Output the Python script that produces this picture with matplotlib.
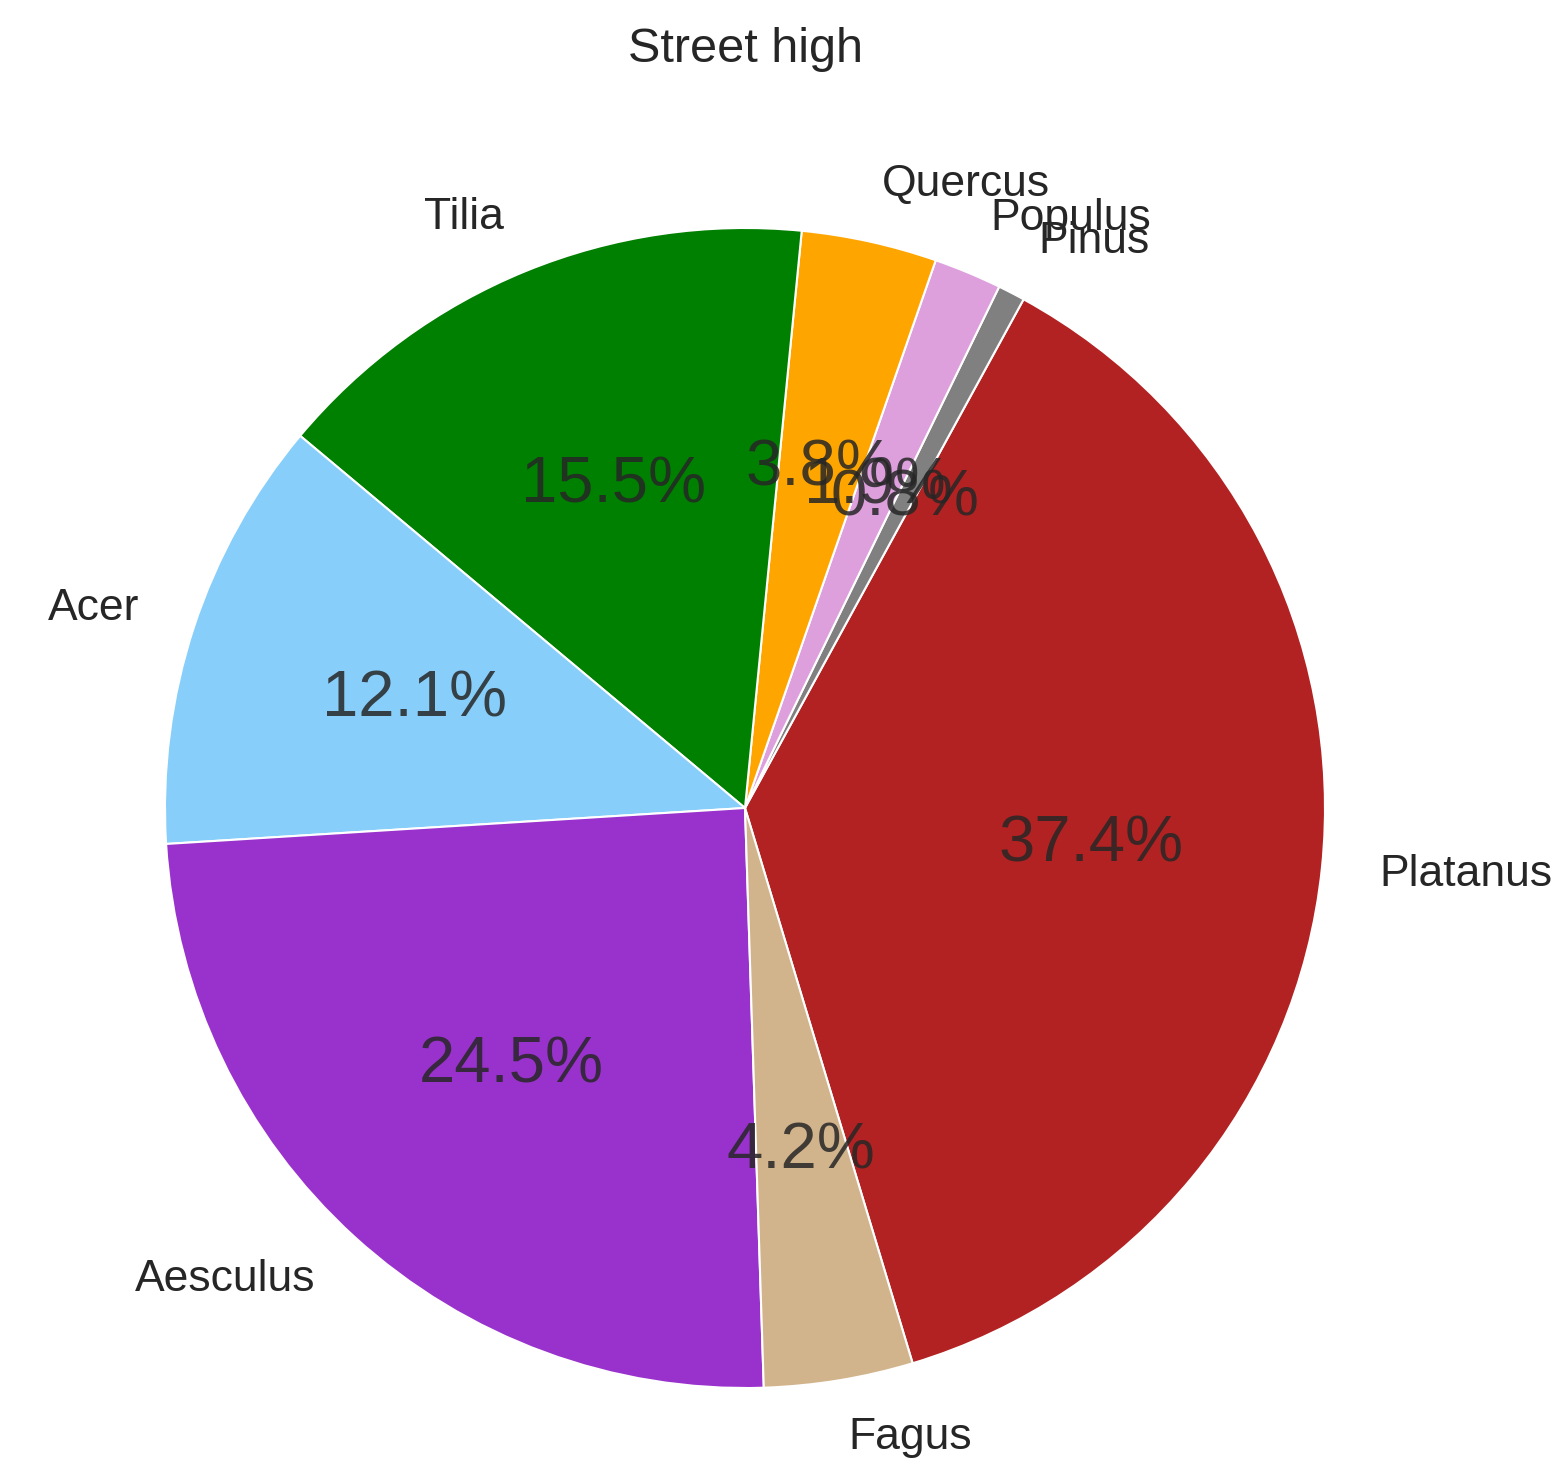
import numpy as np
import matplotlib.pyplot as plt

# tree counts per genus (street, high)
genera = ['Platanus', 'Pinus', 'Populus', 'Quercus', 'Tilia', 'Acer', 'Aesculus', 'Fagus']
counts = [99, 2, 5, 10, 41, 32, 65, 11]
colors = ['firebrick', 'gray', 'plum', 'orange', 'green', 'lightskyblue', 'darkorchid', 'tan']

plt.rcParams['font.family'] = ['Liberation Sans', 'DejaVu Sans']
plt.rcParams['text.color'] = '#262626'

W, H, dpi = 1563, 1460, 100
fig = plt.figure(figsize=(W / dpi, H / dpi), dpi=dpi)

# pie radius ~580 px, centre at (745, 808) px from top-left
r = 580
cx, cy = 745, H - 808
half = 1.25 * r
ax = fig.add_axes([(cx - half) / W, (cy - half) / H, 2 * half / W, 2 * half / H])

wedges, texts, autotexts = ax.pie(
    counts, labels=genera, colors=colors, autopct='%1.1f%%',
    startangle=-73.2, pctdistance=0.6, labeldistance=1.1,
    wedgeprops={'edgecolor': 'white', 'linewidth': 1.5},
    textprops={'fontsize': 32, 'color': '#262626'})

for t in autotexts:
    t.set_fontsize(47)
    t.set_alpha(0.85)

fig.text(cx / W, 1 - 50 / H, 'Street high', ha='center', va='center', fontsize=35)

fig.savefig('out.png', dpi=dpi)
